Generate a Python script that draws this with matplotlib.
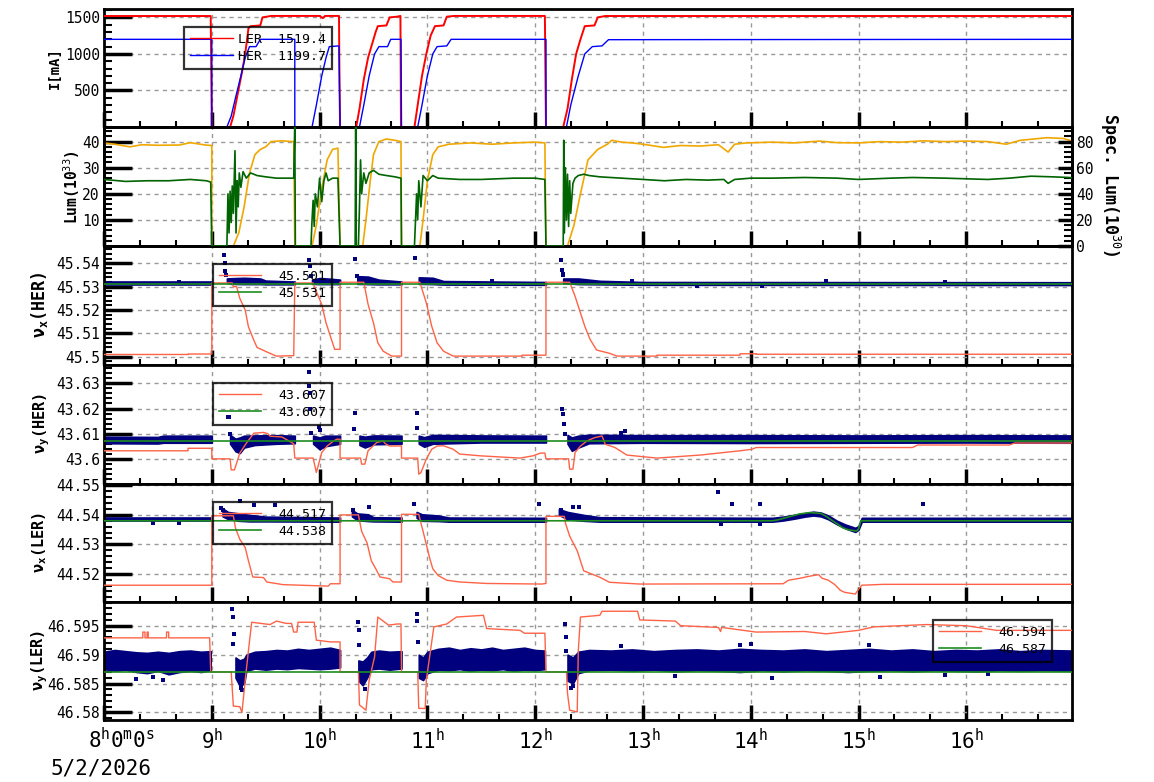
import numpy as np
import matplotlib
matplotlib.use("Agg")
import matplotlib.pyplot as plt
from matplotlib.ticker import FixedLocator, AutoMinorLocator, MultipleLocator, FuncFormatter
from matplotlib.lines import Line2D

plt.rcParams['font.family'] = ['DejaVu Sans Mono', 'DejaVu Sans']
plt.rcParams['mathtext.fontset'] = 'custom'
plt.rcParams['mathtext.rm'] = 'DejaVu Sans Mono'
plt.rcParams['mathtext.it'] = 'DejaVu Sans Mono'
plt.rcParams['mathtext.bf'] = 'DejaVu Sans Mono:bold'

# ---------------- data (time in hours) ----------------
hours = [8, 9, 10, 11, 12, 13, 14, 15, 16]

# beam currents [mA]
ler_current = [(8.0, 1519), (8.99, 1519), (9.0, 0), (9.17, 0), (9.20, 150), (9.24, 450), (9.28, 750),
               (9.31, 1000), (9.34, 1350), (9.36, 1380), (9.45, 1390), (9.47, 1500), (9.55, 1520),
               (10.0, 1520), (10.03, 1490), (10.05, 1520), (10.18, 1520), (10.185, 550), (10.19, 0),
               (10.34, 0), (10.37, 250), (10.41, 650), (10.45, 950), (10.49, 1150), (10.52, 1300),
               (10.54, 1380), (10.62, 1390), (10.65, 1500), (10.72, 1510), (10.75, 1520), (10.755, 0),
               (10.88, 0), (10.91, 300), (10.95, 700), (10.99, 1000), (11.03, 1250), (11.07, 1380),
               (11.15, 1390), (11.18, 1510), (11.25, 1520), (12.09, 1520), (12.10, 0), (12.26, 0),
               (12.30, 250), (12.34, 650), (12.38, 1000), (12.42, 1200), (12.46, 1380), (12.55, 1390),
               (12.58, 1500), (12.65, 1519), (17.0, 1519)]
her_current = [(8.0, 1200), (9.0, 1200), (9.0, 0), (9.14, 0), (9.18, 150), (9.22, 400), (9.27, 700),
               (9.31, 950), (9.35, 1100), (9.41, 1100), (9.45, 1200), (9.77, 1200), (9.77, 0), (9.93, 0),
               (9.97, 300), (10.02, 700), (10.06, 950), (10.09, 1100), (10.18, 1110), (10.19, 0),
               (10.37, 0), (10.41, 300), (10.46, 700), (10.51, 1000), (10.55, 1100), (10.63, 1100),
               (10.66, 1200), (10.755, 1200), (10.76, 0), (10.91, 0), (10.95, 300), (11.0, 700),
               (11.05, 1000), (11.09, 1100), (11.18, 1110), (11.22, 1200), (12.10, 1200), (12.10, 0),
               (12.29, 0), (12.33, 300), (12.40, 700), (12.46, 1000), (12.53, 1100), (12.62, 1110),
               (12.68, 1195), (17.0, 1200)]

# luminosity (left axis, 10^33) and specific luminosity (right axis, 10^30)
lum = [(8.0, 39.5), (8.1, 39.0), (8.24, 38.0), (8.35, 38.8), (8.5, 38.6), (8.7, 38.7), (8.8, 39.6),
       (8.94, 38.7), (9.0, 38.5), (9.0, 0), (9.2, 0), (9.25, 5), (9.3, 15), (9.35, 28), (9.4, 35),
       (9.45, 37), (9.5, 38), (9.55, 40), (9.65, 40.3), (9.76, 40), (9.77, 0), (9.93, 0), (9.97, 8),
       (10.02, 22), (10.07, 33), (10.12, 37), (10.17, 37.5), (10.19, 0), (10.40, 0), (10.43, 10),
       (10.47, 25), (10.50, 35), (10.55, 40), (10.62, 41), (10.70, 40.5), (10.755, 40), (10.76, 0),
       (10.93, 0), (10.96, 10), (11.0, 25), (11.05, 35), (11.1, 38), (11.2, 39), (11.4, 39.5),
       (11.6, 39), (11.8, 39.5), (12.0, 39.8), (12.09, 39.5), (12.10, 0), (12.3, 0), (12.36, 8),
       (12.42, 20), (12.49, 33), (12.58, 37), (12.67, 39), (12.71, 40.5), (12.8, 39.8), (12.9, 39.5),
       (13.0, 39.0), (13.19, 37.8), (13.35, 38.5), (13.53, 38.3), (13.7, 38.8), (13.79, 36.0),
       (13.85, 39.0), (13.96, 39.5), (14.2, 39.8), (14.4, 39.5), (14.64, 40.2), (14.8, 39.6),
       (15.0, 39.5), (15.2, 40.0), (15.4, 39.8), (15.6, 40.3), (15.8, 40.0), (16.0, 40.2),
       (16.2, 40.0), (16.37, 39.0), (16.5, 40.5), (16.75, 41.5), (16.9, 41.2), (17.0, 40.0)]
spec_lum = [(8.0, 51), (8.2, 49.5), (8.4, 50), (8.6, 50), (8.8, 51), (8.95, 50), (8.99, 49), (9.0, 0),
            (9.14, 0), (9.15, 40), (9.16, 10), (9.17, 42), (9.18, 18), (9.19, 46), (9.2, 25),
            (9.215, 73), (9.225, 10), (9.235, 50), (9.245, 30), (9.255, 56), (9.27, 45), (9.29, 57),
            (9.32, 52), (9.36, 56), (9.42, 54), (9.5, 53), (9.6, 52), (9.76, 52), (9.77, 95),
            (9.775, 0), (9.92, 0), (9.93, 20), (9.94, 35), (9.95, 15), (9.96, 40), (9.98, 30),
            (10.0, 52), (10.02, 34), (10.04, 50), (10.06, 56), (10.08, 50), (10.12, 52), (10.17, 52),
            (10.18, 26), (10.19, 0), (10.33, 0), (10.335, 95), (10.34, 0), (10.36, 0), (10.37, 30),
            (10.38, 66), (10.39, 40), (10.41, 56), (10.43, 48), (10.46, 56), (10.5, 58), (10.55, 55),
            (10.62, 54), (10.7, 53), (10.755, 52), (10.76, 0), (10.88, 0), (10.9, 40), (10.91, 20),
            (10.92, 50), (10.94, 30), (10.96, 54), (11.0, 50), (11.05, 54), (11.1, 52), (11.3, 51),
            (11.5, 51), (11.8, 52), (12.0, 52), (12.09, 51), (12.1, 0), (12.26, 0), (12.265, 81),
            (12.27, 10), (12.28, 60), (12.29, 20), (12.3, 55), (12.31, 15), (12.32, 50), (12.33, 25),
            (12.35, 48), (12.37, 52), (12.4, 54), (12.45, 55), (12.5, 54), (12.6, 53), (12.8, 52),
            (13.0, 51), (13.2, 50), (13.4, 51), (13.6, 50.5), (13.75, 51), (13.79, 48), (13.85, 51),
            (14.0, 52), (14.2, 52), (14.5, 52.5), (14.8, 52), (15.0, 51), (15.3, 52), (15.5, 52.5),
            (15.8, 52), (16.0, 51.5), (16.2, 51), (16.4, 52), (16.6, 53.5), (16.8, 53), (16.95, 52.5),
            (17.0, 52)]

# nu_x(HER)
nux_her_set = [(8.0, 45.5010), (8.78, 45.5010), (8.78, 45.5012), (9.0, 45.5012), (9.0, 45.5316),
               (9.19, 45.5316), (9.2, 45.5300), (9.23, 45.5300), (9.26, 45.5250), (9.31, 45.5200),
               (9.34, 45.5128), (9.39, 45.5071), (9.42, 45.5040), (9.51, 45.5021), (9.6, 45.5003),
               (9.76, 45.5005), (9.77, 45.5316), (9.94, 45.5316), (9.96, 45.5290), (10.02, 45.5224),
               (10.06, 45.5145), (10.11, 45.5074), (10.14, 45.5032), (10.19, 45.5032), (10.19, 45.5319),
               (10.41, 45.5319), (10.45, 45.5224), (10.5, 45.5145), (10.54, 45.5060), (10.59, 45.5024),
               (10.67, 45.5003), (10.76, 45.5003), (10.76, 45.5319), (10.93, 45.5319), (10.99, 45.5231),
               (11.04, 45.5131), (11.09, 45.5060), (11.15, 45.5024), (11.24, 45.5003), (11.88, 45.5003),
               (11.88, 45.5007), (12.10, 45.5007), (12.10, 45.5319), (12.32, 45.5319), (12.37, 45.5259),
               (12.42, 45.5188), (12.46, 45.5131), (12.51, 45.5074), (12.57, 45.5029), (12.69, 45.5015),
               (12.76, 45.5003), (13.13, 45.5003), (13.13, 45.5007), (13.9, 45.5007), (13.9, 45.5013),
               (14.05, 45.5013), (14.05, 45.5011), (17.0, 45.5011)]
nux_her_ref = [(8.0, 45.531), (17.0, 45.531)]
nux_her_band = [
    [(8.0, 45.5307, 45.5318), (9.0, 45.5307, 45.5318)],
    [(9.14, 45.5318, 45.5335), (9.18, 45.5312, 45.5336), (9.3, 45.5311, 45.5338), (9.45, 45.5311, 45.5335),
     (9.5, 45.5310, 45.5326), (9.77, 45.5310, 45.5322)],
    [(9.93, 45.5312, 45.5330), (10.0, 45.5311, 45.5337), (10.1, 45.5311, 45.5334), (10.19, 45.5311, 45.5330)],
    [(10.35, 45.5312, 45.5345), (10.45, 45.5311, 45.5343), (10.55, 45.5310, 45.5330), (10.76, 45.5310, 45.5322)],
    [(10.92, 45.5312, 45.5340), (11.05, 45.5311, 45.5338), (11.15, 45.5309, 45.5324), (12.1, 45.5308, 45.5320)],
    [(12.26, 45.5315, 45.5335), (12.4, 45.5311, 45.5335), (12.6, 45.5310, 45.5325), (13.0, 45.5308, 45.5320),
     (17.0, 45.5307, 45.5319)]]
nux_her_pts = [(9.11, 45.5437), (9.12, 45.5400), (9.125, 45.5365), (9.13, 45.5352), (9.9, 45.5416),
               (9.91, 45.5387), (9.92, 45.5345), (10.33, 45.5420), (10.35, 45.5345), (10.885, 45.5423),
               (12.24, 45.5412), (12.25, 45.5373), (12.255, 45.5355), (12.26, 45.5348), (8.7, 45.5322),
               (11.6, 45.5323), (12.9, 45.5323), (13.5, 45.5304), (14.1, 45.5303), (14.7, 45.5323),
               (15.8, 45.5322)]

# nu_y(HER)
nuy_her_set = [(8.0, 43.6032), (8.78, 43.6032), (8.78, 43.6042), (9.0, 43.6042), (9.0, 43.6000),
               (9.17, 43.6000), (9.18, 43.5956), (9.21, 43.5956), (9.26, 43.6023), (9.32, 43.6062),
               (9.39, 43.6102), (9.48, 43.6105), (9.52, 43.6100), (9.54, 43.6090), (9.65, 43.6087),
               (9.76, 43.6060), (9.77, 43.6003), (9.94, 43.6003), (9.97, 43.5946), (10.02, 43.6025),
               (10.07, 43.6051), (10.13, 43.6071), (10.16, 43.6078), (10.19, 43.6078), (10.19, 43.6003),
               (10.38, 43.6003), (10.39, 43.5979), (10.42, 43.5979), (10.45, 43.6032), (10.53, 43.6065),
               (10.59, 43.6071), (10.61, 43.6060), (10.65, 43.6051), (10.76, 43.6051), (10.76, 43.6003),
               (10.91, 43.6003), (10.92, 43.5939), (10.94, 43.5945), (10.99, 43.5999), (11.04, 43.6038),
               (11.09, 43.6051), (11.15, 43.6052), (11.24, 43.6038), (11.30, 43.6019), (11.49, 43.6012),
               (11.86, 43.6003), (11.98, 43.6012), (12.05, 43.6023), (12.09, 43.6023), (12.10, 43.6000),
               (12.31, 43.6000), (12.32, 43.5959), (12.35, 43.5959), (12.37, 43.6025), (12.42, 43.6051),
               (12.48, 43.6071), (12.55, 43.6084), (12.62, 43.6091), (12.65, 43.6058), (12.74, 43.6045),
               (12.85, 43.6015), (13.13, 43.6003), (13.53, 43.6015), (13.9, 43.6032), (14.01, 43.6038),
               (14.05, 43.6045), (15.5, 43.6045), (15.55, 43.6055), (16.4, 43.6055), (16.45, 43.6063),
               (17.0, 43.6063)]
nuy_her_ref = [(8.0, 43.607), (17.0, 43.607)]
nuy_her_band = [
    [(8.0, 43.6062, 43.6088), (8.5, 43.6061, 43.6087), (8.55, 43.6064, 43.6092), (9.0, 43.6064, 43.6092)],
    [(9.17, 43.6060, 43.6095), (9.22, 43.6030, 43.6080), (9.26, 43.6023, 43.6085), (9.3, 43.6045, 43.6092),
     (9.4, 43.6055, 43.6093), (9.6, 43.6060, 43.6094), (9.77, 43.6062, 43.6092)],
    [(9.94, 43.6060, 43.6092), (10.0, 43.6038, 43.6085), (10.05, 43.6050, 43.6092), (10.19, 43.6060, 43.6092)],
    [(10.37, 43.6055, 43.6092), (10.42, 43.6045, 43.6088), (10.5, 43.6058, 43.6093), (10.76, 43.6060, 43.6092)],
    [(10.92, 43.6060, 43.6092), (10.97, 43.6048, 43.6086), (11.05, 43.6060, 43.6095), (11.5, 43.6065, 43.6093),
     (12.1, 43.6065, 43.6092)],
    [(12.3, 43.6060, 43.6095), (12.34, 43.6032, 43.6085), (12.4, 43.6045, 43.6092), (12.5, 43.6062, 43.6096),
     (13.0, 43.6064, 43.6094), (14.0, 43.6063, 43.6094), (15.0, 43.6064, 43.6093), (16.0, 43.6065, 43.6094),
     (17.0, 43.6064, 43.6093)]]
nuy_her_pts = [(9.15, 43.6168), (9.16, 43.6165), (9.17, 43.6100), (9.90, 43.6345), (9.905, 43.6289),
               (9.91, 43.6263), (9.915, 43.6197), (9.92, 43.6104), (9.99, 43.6128), (10.0, 43.6115),
               (10.33, 43.6183), (10.32, 43.6118), (10.9, 43.6183), (10.905, 43.6124), (12.25, 43.6197),
               (12.255, 43.6177), (12.27, 43.6137), (12.28, 43.6098), (12.83, 43.6110), (12.8, 43.6103)]

# nu_x(LER)
nux_ler_set = [(8.0, 44.5161), (9.0, 44.5161), (9.0, 44.5397), (9.2, 44.5397), (9.22, 44.5355),
               (9.26, 44.5317), (9.31, 44.5289), (9.34, 44.5244), (9.38, 44.5189), (9.48, 44.5187),
               (9.51, 44.5172), (9.66, 44.5163), (10.08, 44.5158), (10.1, 44.5166), (10.19, 44.5166),
               (10.19, 44.5400), (10.36, 44.5400), (10.39, 44.5344), (10.44, 44.5305), (10.48, 44.5244),
               (10.53, 44.5211), (10.56, 44.5189), (10.65, 44.5183), (10.68, 44.5172), (10.76, 44.5172),
               (10.76, 44.5402), (10.92, 44.5402), (10.96, 44.5344), (10.99, 44.5300), (11.02, 44.5255),
               (11.05, 44.5217), (11.1, 44.5194), (11.18, 44.5178), (11.3, 44.5172), (11.55, 44.5167),
               (12.06, 44.5165), (12.10, 44.5167), (12.10, 44.5395), (12.27, 44.5395), (12.28, 44.5373),
               (12.32, 44.5328), (12.39, 44.5278), (12.45, 44.5210), (12.6, 44.5188), (12.69, 44.5171),
               (12.97, 44.5165), (14.3, 44.5166), (14.35, 44.5178), (14.46, 44.5185), (14.55, 44.5192),
               (14.63, 44.5197), (14.66, 44.5185), (14.72, 44.5178), (14.78, 44.5163), (14.83, 44.5144),
               (14.87, 44.5137), (14.97, 44.5131), (15.0, 44.5147), (15.03, 44.5161), (15.23, 44.5164),
               (17.0, 44.5164)]
nux_ler_ref = [(8.0, 44.538), (14.2, 44.538), (14.25, 44.5383), (14.35, 44.5393), (14.45, 44.5403),
               (14.55, 44.5408), (14.65, 44.5405), (14.7, 44.5395), (14.75, 44.5382), (14.8, 44.5370),
               (14.85, 44.5357), (14.9, 44.5350), (14.98, 44.5345), (15.0, 44.5352), (15.02, 44.538),
               (17.0, 44.538)]
nux_ler_band = [
    [(8.0, 44.5378, 44.5390), (9.0, 44.5378, 44.5390)],
    [(9.1, 44.5395, 44.5422), (9.15, 44.5386, 44.5410), (9.25, 44.5380, 44.5405), (9.35, 44.5378, 44.5400),
     (9.5, 44.5378, 44.5394), (10.19, 44.5377, 44.5391)],
    [(10.3, 44.5395, 44.5417), (10.35, 44.5382, 44.5405), (10.45, 44.5379, 44.5402), (10.5, 44.5378, 44.5392),
     (10.76, 44.5377, 44.5391)],
    [(10.9, 44.5390, 44.5410), (10.95, 44.5380, 44.5402), (11.1, 44.5379, 44.5398), (11.2, 44.5377, 44.5391),
     (12.1, 44.5377, 44.5390)],
    [(12.22, 44.5400, 44.5420), (12.3, 44.5385, 44.5410), (12.45, 44.5380, 44.5400), (12.6, 44.5377, 44.5392),
     (14.2, 44.5377, 44.5390), (14.3, 44.5381, 44.5394), (14.4, 44.5387, 44.5400), (14.5, 44.5394, 44.5406),
     (14.58, 44.5398, 44.5411), (14.65, 44.5395, 44.5408), (14.72, 44.5385, 44.5398), (14.8, 44.5368, 44.5380),
     (14.88, 44.5354, 44.5367), (14.97, 44.5342, 44.5356), (15.0, 44.5350, 44.5362), (15.03, 44.5377, 44.5390),
     (17.0, 44.5377, 44.5390)]]
nux_ler_pts = [(9.09, 44.5422), (9.1, 44.5418), (9.26, 44.5447), (9.39, 44.5435), (9.59, 44.5435),
               (10.31, 44.5417), (10.46, 44.5427), (10.88, 44.5436), (12.04, 44.5436), (12.24, 44.5417),
               (12.35, 44.5427), (12.41, 44.5427), (13.7, 44.5478), (13.83, 44.5436), (14.09, 44.5436),
               (15.6, 44.5436), (13.72, 44.5369), (14.09, 44.5369), (8.45, 44.5374), (8.7, 44.5374)]

# nu_y(LER)
nuy_ler_set = [(8.0, 46.5929), (8.36, 46.5929), (8.36, 46.5939), (8.38, 46.5939), (8.38, 46.5929),
               (8.4, 46.5929), (8.4, 46.5939), (8.41, 46.5939), (8.41, 46.5929), (8.58, 46.5929),
               (8.58, 46.5939), (8.6, 46.5939), (8.6, 46.5929), (8.98, 46.5929), (8.99, 46.5870),
               (9.18, 46.5870), (9.2, 46.5811), (9.26, 46.5810), (9.28, 46.5800), (9.31, 46.5856),
               (9.34, 46.5907), (9.37, 46.5956), (9.54, 46.5952), (9.6, 46.5958), (9.69, 46.5954),
               (9.74, 46.5954), (9.76, 46.5939), (9.79, 46.5939), (9.8, 46.5956), (9.95, 46.5956),
               (9.97, 46.5925), (10.1, 46.5922), (10.19, 46.5922), (10.19, 46.5870), (10.36, 46.5870),
               (10.37, 46.5813), (10.43, 46.5804), (10.46, 46.5856), (10.51, 46.5896), (10.54, 46.5965),
               (10.64, 46.5951), (10.72, 46.5953), (10.755, 46.5953), (10.76, 46.5870), (10.91, 46.5870),
               (10.92, 46.5807), (10.98, 46.5807), (10.99, 46.5856), (11.06, 46.5948), (11.18, 46.5953),
               (11.27, 46.5965), (11.52, 46.5968), (11.55, 46.5945), (11.86, 46.5942), (11.9, 46.5937),
               (12.09, 46.5937), (12.10, 46.5870), (12.29, 46.5870), (12.3, 46.5833), (12.32, 46.5804),
               (12.39, 46.5801), (12.40, 46.5907), (12.42, 46.5965), (12.6, 46.5968), (12.62, 46.5975),
               (12.95, 46.5975), (12.97, 46.5960), (13.3, 46.5958), (13.35, 46.5950), (13.7, 46.5947),
               (13.72, 46.5940), (13.73, 46.5947), (14.05, 46.5939), (14.5, 46.5940), (14.7, 46.5936),
               (15.0, 46.5942), (15.14, 46.5948), (15.63, 46.5952), (16.0, 46.5950), (16.28, 46.5942),
               (17.0, 46.5942)]
nuy_ler_ref = [(8.0, 46.587), (17.0, 46.587)]
nuy_ler_band = [
    [(8.0, 46.5875, 46.5905), (8.1, 46.5872, 46.5908), (8.2, 46.5874, 46.5906), (8.3, 46.5870, 46.5904),
     (8.4, 46.5868, 46.5903), (8.5, 46.5872, 46.5905), (8.6, 46.5866, 46.5903), (8.7, 46.5870, 46.5906),
     (8.8, 46.5872, 46.5907), (8.9, 46.5870, 46.5905), (8.99, 46.5873, 46.5906)],
    [(9.22, 46.5860, 46.5895), (9.26, 46.5846, 46.5890), (9.3, 46.5850, 46.5893), (9.32, 46.5872, 46.5900),
     (9.4, 46.5876, 46.5905), (9.5, 46.5874, 46.5906), (9.6, 46.5876, 46.5908), (9.7, 46.5875, 46.5907),
     (9.8, 46.5877, 46.5910), (9.9, 46.5876, 46.5908), (10.0, 46.5875, 46.5910), (10.1, 46.5876, 46.5912),
     (10.19, 46.5878, 46.5908)],
    [(10.36, 46.5855, 46.5890), (10.40, 46.5847, 46.5888), (10.44, 46.5860, 46.5895), (10.48, 46.5875, 46.5905),
     (10.55, 46.5876, 46.5907), (10.65, 46.5874, 46.5905), (10.76, 46.5876, 46.5906)],
    [(10.92, 46.5860, 46.5900), (10.96, 46.5856, 46.5895), (11.0, 46.5868, 46.5905), (11.1, 46.5874, 46.5910),
     (11.2, 46.5873, 46.5912), (11.3, 46.5875, 46.5908), (11.4, 46.5872, 46.5911), (11.5, 46.5874, 46.5909),
     (11.6, 46.5873, 46.5912), (11.7, 46.5875, 46.5908), (11.8, 46.5872, 46.5910), (11.9, 46.5874, 46.5912),
     (12.0, 46.5873, 46.5908), (12.09, 46.5875, 46.5907)],
    [(12.3, 46.5855, 46.5900), (12.35, 46.5850, 46.5895), (12.4, 46.5868, 46.5905), (12.5, 46.5873, 46.5908),
     (12.7, 46.5874, 46.5907), (12.9, 46.5872, 46.5909), (13.1, 46.5874, 46.5906), (13.3, 46.5871, 46.5908),
     (13.5, 46.5873, 46.5909), (13.7, 46.5872, 46.5907), (13.9, 46.5870, 46.5910), (14.1, 46.5873, 46.5908),
     (14.3, 46.5871, 46.5907), (14.5, 46.5873, 46.5909), (14.7, 46.5872, 46.5906), (14.9, 46.5870, 46.5908),
     (15.1, 46.5872, 46.5910), (15.3, 46.5873, 46.5907), (15.5, 46.5871, 46.5909), (15.7, 46.5873, 46.5906),
     (15.9, 46.5872, 46.5908), (16.1, 46.5871, 46.5907), (16.3, 46.5873, 46.5909), (16.5, 46.5872, 46.5906),
     (16.7, 46.5873, 46.5908), (17.0, 46.5872, 46.5907)]]
nuy_ler_pts = [(9.19, 46.5979), (9.195, 46.5965), (9.2, 46.5919), (9.205, 46.5935), (10.36, 46.5956),
               (10.365, 46.5942), (10.37, 46.5917), (10.9, 46.5971), (10.905, 46.5959), (10.91, 46.5922),
               (12.28, 46.5953), (12.285, 46.5930), (12.29, 46.5907), (8.3, 46.5858), (8.45, 46.5862),
               (8.55, 46.5856), (9.27, 46.5842), (9.28, 46.5838), (10.42, 46.5840), (12.33, 46.5842),
               (12.35, 46.5845), (13.3, 46.5863), (13.9, 46.5916), (14.0, 46.5918), (14.2, 46.5860),
               (15.1, 46.5917), (15.2, 46.5862), (15.8, 46.5865), (16.2, 46.5866), (12.8, 46.5915)]

# ---------------- styling ----------------
RED, BLUE = '#ff0000', '#0000ff'
ORANGE, DKGREEN = '#f0a800', '#006400'
TOMATO, GREEN, NAVY = '#ff6347', '#1e8c1e', '#00007f'
GRID = '#999999'

W_PX, H_PX = 1154, 782
fig = plt.figure(figsize=(W_PX / 100, H_PX / 100), dpi=100)
left_px, right_px = 104, 1072
edges_px = [9, 127, 246, 365, 484, 602, 720]
axes = []
for i in range(6):
    b = 1 - edges_px[i + 1] / H_PX
    h = (edges_px[i + 1] - edges_px[i]) / H_PX
    axes.append(fig.add_axes([left_px / W_PX, b, (right_px - left_px) / W_PX, h]))


def xy(pairs):
    a = np.array(pairs, dtype=float)
    return a[:, 0], a[:, 1]


def style(ax, yticks, ylim, fmt='%g'):
    ax.set_xlim(8.0, 16.98)
    ax.set_ylim(*ylim)
    ax.xaxis.set_major_locator(FixedLocator(hours))
    ax.xaxis.set_minor_locator(MultipleLocator(1 / 3))
    ax.yaxis.set_major_locator(FixedLocator(yticks))
    ax.yaxis.set_minor_locator(AutoMinorLocator(5))
    ax.yaxis.set_major_formatter(FuncFormatter(lambda v, p: fmt % v))
    ax.tick_params(axis='x', which='major', direction='in', length=11, width=2.5, top=False,
                   labelbottom=False)
    ax.tick_params(axis='x', which='minor', direction='in', length=4, width=1.5, top=False)
    ax.tick_params(axis='y', which='major', direction='in', length=20, width=2.5, right=False,
                   labelsize=10.5, pad=3)
    ax.tick_params(axis='y', which='minor', direction='in', length=6, width=1.5, right=False)
    ax.grid(True, which='major', color=GRID, ls=(0, (3, 3)), lw=1)
    for s in ax.spines.values():
        s.set_linewidth(2)


def legend(ax, handles, labels, x0, ytop, textpad=1.3):
    leg = ax.legend(handles, labels, loc='upper left', bbox_to_anchor=(x0, ytop),
                    prop={'family': 'DejaVu Sans Mono', 'size': 9.5}, frameon=True, fancybox=False,
                    handlelength=3.2, handletextpad=textpad, borderpad=0.45, labelspacing=0.3,
                    borderaxespad=0)
    fr = leg.get_frame()
    fr.set_facecolor('none')
    fr.set_edgecolor('black')
    fr.set_linewidth(1.6)
    return leg


def tune_panel(ax, band, pts, setv, ref, yticks, ylim, lab_set, lab_ref, lx, ly):
    for seg in band:
        a = np.array(seg, dtype=float)
        ax.fill_between(a[:, 0], a[:, 1], a[:, 2], color=NAVY, lw=1.2, zorder=2)
    t, v = xy(pts)
    ax.plot(t, v, 's', ms=3.2, mew=0, color=NAVY, zorder=2)
    t, v = xy(setv)
    ax.plot(t, v, color=TOMATO, lw=1.0, zorder=3)
    t, v = xy(ref)
    ax.plot(t, v, color=GREEN, lw=1.2, zorder=4)
    style(ax, yticks, ylim)
    legend(ax, [Line2D([], [], color=TOMATO, lw=1), Line2D([], [], color=GREEN, lw=1.2)],
           [lab_set, lab_ref], lx, ly, textpad=1.3)


# panel 1: currents
ax1 = axes[0]
t, v = xy(ler_current)
ax1.plot(t, v, color=RED, lw=1.4, zorder=3)
t, v = xy(her_current)
ax1.plot(t, v, color=BLUE, lw=1.0, zorder=3)
style(ax1, [500, 1000, 1500], (0, 1615))
legend(ax1, [Line2D([], [], color=RED, lw=1), Line2D([], [], color=BLUE, lw=1)],
       ['LER  1519.4', 'HER  1199.7'], 0.083, 0.85, textpad=0.4)

# panel 2: luminosity
ax2 = axes[1]
t, v = xy(lum)
ax2.plot(t, v, color=ORANGE, lw=1.2, zorder=3)
style(ax2, [10, 20, 30, 40], (0, 45.6))
ax2r = ax2.twinx()
t, v = xy(spec_lum)
ax2r.plot(t, v, color=DKGREEN, lw=1.2, zorder=3)
ax2r.set_ylim(0, 91.2)
ax2r.yaxis.set_major_locator(FixedLocator([0, 20, 40, 60, 80]))
ax2r.yaxis.set_minor_locator(AutoMinorLocator(5))
ax2r.tick_params(axis='y', which='major', direction='in', length=10, width=2.5, labelsize=10.5, pad=3)
ax2r.tick_params(axis='y', which='minor', direction='in', length=6, width=1.5)
for s in ax2r.spines.values():
    s.set_linewidth(2)

tune_panel(axes[2], nux_her_band, nux_her_pts, nux_her_set, nux_her_ref,
           [45.5, 45.51, 45.52, 45.53, 45.54], (45.4965, 45.5474), '45.501', '45.531', 0.1126, 0.85)
tune_panel(axes[3], nuy_her_band, nuy_her_pts, nuy_her_set, nuy_her_ref,
           [43.6, 43.61, 43.62, 43.63], (43.590, 43.6373), '43.607', '43.607', 0.1126, 0.85)
tune_panel(axes[4], nux_ler_band, nux_ler_pts, nux_ler_set, nux_ler_ref,
           [44.52, 44.53, 44.54, 44.55], (44.5104, 44.5505), '44.517', '44.538', 0.1126, 0.85)
tune_panel(axes[5], nuy_ler_band, nuy_ler_pts, nuy_ler_set, nuy_ler_ref,
           [46.58, 46.585, 46.59, 46.595], (46.5787, 46.5991), '46.594', '46.587', 0.8564, 0.85)

# bottom time axis
ax6 = axes[5]
ax6.tick_params(axis='x', which='major', labelbottom=True, labelsize=15, pad=6)
ax6.set_xticklabels([''] + [r'$%d^{\mathrm{h}}$' % h for h in hours[1:]])
fig.text(88 / W_PX, 1 - 740 / H_PX, r'$8^{\mathrm{h}}0^{\mathrm{m}}0^{\mathrm{s}}$', fontsize=15,
         ha='left', va='center')
fig.text(51 / W_PX, 1 - 768 / H_PX, '5/2/2026', fontsize=15, ha='left', va='center')

# axis labels
ylabels = [(55, 68, 'I[mA]', 10), (72, 187, 'Lum(10$^{33}$)', 10.5),
           (40, 305, r'$\mathbf{\nu_x}$(HER)', 12), (42, 423, r'$\mathbf{\nu_y}$(HER)', 11),
           (40, 542, r'$\mathbf{\nu_x}$(LER)', 11), (40, 660, r'$\mathbf{\nu_y}$(LER)', 11)]
for x, y, s, fs in ylabels:
    fig.text(x / W_PX, 1 - y / H_PX, s, rotation=90, fontsize=fs, fontweight='bold',
             ha='center', va='center')
fig.text(1110 / W_PX, 1 - 185 / H_PX, 'Spec. Lum(10$^{30}$)', rotation=-90, fontsize=12,
         fontweight='bold', ha='center', va='center')

fig.savefig('out.png', dpi=100)
